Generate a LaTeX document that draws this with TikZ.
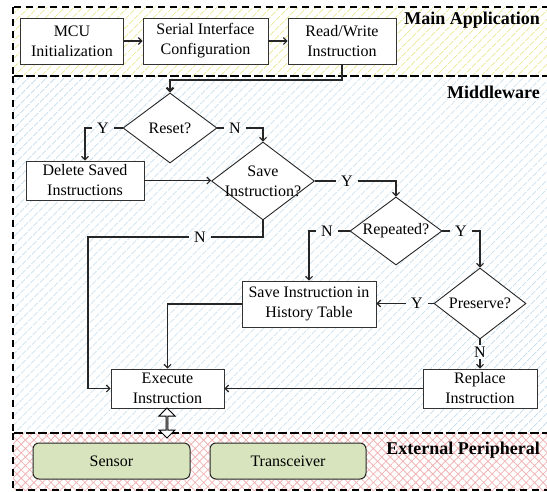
\documentclass[tikz,border=0pt]{standalone}
\usepackage{fontspec}
\setmainfont{Liberation Serif}
\usetikzlibrary{patterns.meta,shapes.geometric,shapes.arrows,arrows.meta}
\definecolor{hatchyellow}{RGB}{236,234,160}
\definecolor{hatchblue}{RGB}{196,220,236}
\definecolor{hatchpink}{RGB}{240,180,180}
\definecolor{periph}{RGB}{215,228,189}
\begin{document}
\begin{tikzpicture}[x=1pt,y=-1pt,
  txt/.style={font=\fontsize{16}{20}\selectfont},
  box/.style={txt,draw=black!80,fill=white,line width=0.9pt,align=center,inner sep=1pt},
  dec/.style={diamond,draw=black!85,fill=white,line width=0.9pt,inner sep=0pt},
  yn/.style={txt,inner xsep=5pt,inner ysep=2pt},
  title/.style={font=\fontsize{18}{20}\selectfont\bfseries,inner sep=0pt},
  conn/.style={draw=black!85,line width=1.1pt},
  arr/.style={conn,-{Straight Barb[length=3.5pt,width=7pt]}},
  region/.style={draw=black,line width=1.2pt,dash pattern=on 7pt off 5pt},
  dev/.style={txt,draw=black!85,fill=periph,line width=1pt,rounded corners=6pt}]
\useasboundingbox (0,0) rectangle (547,491);
% regions
\fill[pattern={Lines[angle=45,distance=6.5pt,line width=1pt]},pattern color=hatchyellow] (13,7) rectangle (560,76);
\fill[pattern={Lines[angle=45,distance=6.5pt,line width=1pt]},pattern color=hatchblue] (13,76) rectangle (560,433);
\fill[pattern={Hatch[angle=45,distance=6pt,line width=0.8pt]},pattern color=hatchpink] (13,433) rectangle (560,490);
\draw[region] (13,7) rectangle (560,76);
\draw[region] (13,76) rectangle (560,433);
\draw[region] (13,433) rectangle (560,490);
\node[title,anchor=east] (lmain) at (540,20) {Main Application};
\node[title,anchor=east] (lmid) at (540,92) {Middleware};
\node[title,anchor=east] (lext) at (540,450) {External Peripheral};
% main application
\node[box,minimum width=103pt,minimum height=46pt] (mcu) at (72,41) {MCU\\Initialization};
\node[box,minimum width=125pt,minimum height=46pt] (ser) at (205.5,41) {Serial Interface\\Configuration};
\node[box,minimum width=108pt,minimum height=46pt] (rw) at (342,41) {Read/Write\\Instruction};
\draw[arr] (mcu) -- (ser);
\draw[arr] (ser) -- (rw);
% middleware
\node[dec,minimum width=94pt,minimum height=70pt,label={[txt]center:Reset?}] (reset) at (170,128) {};
\node[box,minimum width=118pt,minimum height=39pt] (del) at (85,180.5) {Delete Saved\\Instructions};
\node[dec,minimum width=103pt,minimum height=78pt,label={[txt,align=center]center:Save\\Instruction?}] (save) at (263,181) {};
\node[dec,minimum width=92pt,minimum height=68pt,label={[txt]center:Repeated?}] (rep) at (396,231) {};
\node[box,minimum width=134pt,minimum height=46pt] (hist) at (309,304) {Save Instruction in\\History Table};
\node[dec,minimum width=92pt,minimum height=71pt,label={[txt]center:Preserve?}] (pres) at (480,303.5) {};
\node[box,minimum width=113pt,minimum height=39pt] (exec) at (167.5,388.5) {Execute\\Instruction};
\node[box,minimum width=114pt,minimum height=39pt] (repl) at (480,388.5) {Replace\\Instruction};
% labels
\node[yn] (y1) at (103,128) {Y};
\node[yn] (n1) at (235,128) {N};
\node[yn] (y2) at (347,181) {Y};
\node[yn] (n2) at (200,237) {N};
\node[yn] (n3) at (327,231) {N};
\node[yn] (y3) at (461,231) {Y};
\node[yn] (y4) at (417,303.5) {Y};
\node[yn,inner xsep=2pt] (n4) at (480,352) {N};
\coordinate (c0) at (342,80);
\coordinate (c1) at (88,237);
% connectors
\draw[arr,line width=2pt] (rw.south) -- (c0) -| (reset.north);
\draw[conn] (reset.west) -- (y1);
\draw[arr] (y1) -| (del.north);
\draw[conn] (reset.east) -- (n1);
\draw[arr] (n1) -| (save.north);
\draw[arr] (del.east) -- (del.east -| save.west);
\draw[conn] (save.east) -- (y2);
\draw[arr] (y2) -| (rep.north);
\draw[conn] (save.south) |- (n2);
\draw[arr] (n2) -- (c1) |- (exec.west);
\draw[conn] (rep.west) -- (n3);
\draw[arr] (n3) -| (hist.north);
\draw[conn] (rep.east) -- (y3);
\draw[arr] (y3) -| (pres.north);
\draw[conn] (pres.west) -- (y4);
\draw[arr] (y4) -- (y4 -| hist.east);
\draw[conn] (pres.south) -- (n4);
\draw[arr] (n4) -- (repl.north);
\draw[arr] (hist.west) -| (exec.north);
\draw[arr] (repl.west) -- (exec.east);
% external peripheral
\node[dev,minimum width=157pt,minimum height=36pt] (sensor) at (111.5,461) {Sensor};
\node[dev,minimum width=156pt,minimum height=36pt] (trans) at (288,461) {Transceiver};
\node[double arrow,draw=black,fill=white,line width=1pt,rotate=90,minimum height=30pt,minimum width=16pt,double arrow head extend=4pt,inner sep=0pt] (io) at (167,423) {};
\end{tikzpicture}
\end{document}
